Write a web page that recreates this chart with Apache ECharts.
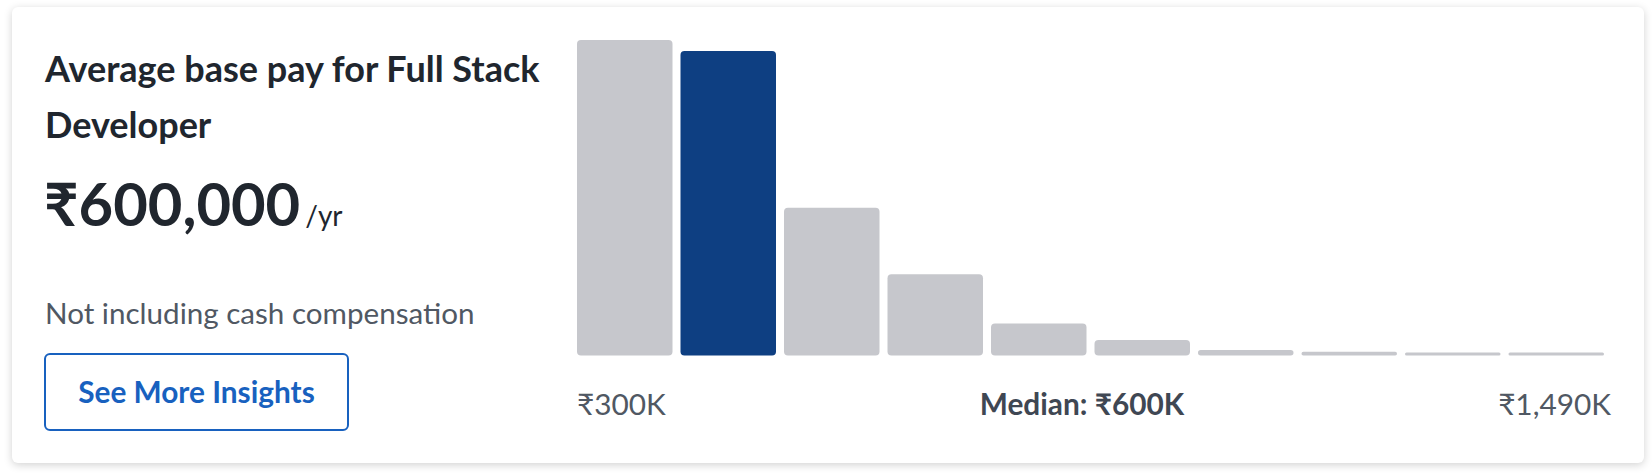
<!DOCTYPE html>
<html>
<head>
<meta charset="utf-8">
<script src="https://cdn.jsdelivr.net/npm/echarts@6/dist/echarts.min.js"></script>
<style>
  html, body { margin: 0; padding: 0; width: 1652px; height: 474px; background: #ffffff; overflow: hidden; font-family: Lato, "Noto Sans", sans-serif; }
  .card { position: absolute; left: 12px; top: 7px; width: 1632px; height: 456px; background: #fff; border-radius: 6px; box-shadow: 0 2px 9px rgba(0,0,0,0.18); }
  .abs { position: absolute; white-space: nowrap; }
  #title { left: 45px; top: 39.5px; font-size: 36px; line-height: 56.6px; font-weight: 700; color: #20262e; }
  #price { left: 44px; top: 167.8px; font-size: 59.7px; line-height: 1.2; font-weight: 700; color: #20262e; }
  #price span { font-size: 28px; font-weight: 400; margin-left: 5px; }
  #note { left: 45px; top: 294.8px; font-size: 29.6px; line-height: 1.2; color: #505863; }
  #btn { left: 44px; top: 352.7px; width: 305px; height: 78.3px; box-sizing: border-box; border: 2px solid #1861bf; border-radius: 6px; display: flex; align-items: center; justify-content: center; font-size: 29.8px; font-weight: 700; color: #1861bf; }
  #labels { position: absolute; left: 577px; width: 1034px; top: 385.6px; display: flex; justify-content: space-between; font-size: 29.8px; line-height: 1.2; color: #505863; white-space: nowrap; }
  #labels b { color: #3f4753; }
  #chart { position: absolute; left: 0; top: 0; width: 1652px; height: 474px; }
</style>
</head>
<body>
<div class="card"></div>
<div id="title" class="abs">Average base pay for Full Stack<br>Developer</div>
<div id="price" class="abs">₹600,000<span>/yr</span></div>
<div id="note" class="abs">Not including cash compensation</div>
<div id="btn" class="abs">See More Insights</div>
<div id="labels"><span id="lmin"></span><b id="lmed"></b><span id="lmax"></span></div>
<div id="chart"></div>
<script>
// Salary distribution bins (₹300K to ₹1,490K), share of reported salaries (%)
const categories = ["₹300K", "₹419K", "₹538K", "₹657K", "₹776K", "₹895K", "₹1,014K", "₹1,133K", "₹1,252K", "₹1,371K"];
const shares = [34.6, 33.4, 16.2, 8.9, 3.5, 1.7, 0.6, 0.4, 0.33, 0.33];
const medianBinIndex = 1;
const tickLabels = ["₹300K", "₹1,490K"];
const medianLabel = "Median: ₹600K";

document.getElementById('lmin').textContent = tickLabels[0];
document.getElementById('lmax').textContent = tickLabels[1];
document.getElementById('lmed').textContent = medianLabel;

const chart = echarts.init(document.getElementById('chart'), null, { renderer: 'canvas' });
chart.setOption({
  animation: false,
  backgroundColor: 'transparent',
  grid: { left: 573, right: 44, top: 40, bottom: 118.5, containLabel: false },
  xAxis: {
    type: 'category', data: categories,
    axisLine: { show: false }, axisTick: { show: false }, axisLabel: { show: false }, splitLine: { show: false }
  },
  yAxis: {
    type: 'value', min: 0, max: shares[0],
    axisLine: { show: false }, axisTick: { show: false }, axisLabel: { show: false }, splitLine: { show: false }
  },
  series: [{
    type: 'bar',
    barWidth: 95.5,
    data: shares.map((v, i) => ({
      value: v,
      itemStyle: { color: i === medianBinIndex ? '#0e3f82' : '#c6c7cc', borderRadius: 4 }
    }))
  }]
});
</script>
</body>
</html>
